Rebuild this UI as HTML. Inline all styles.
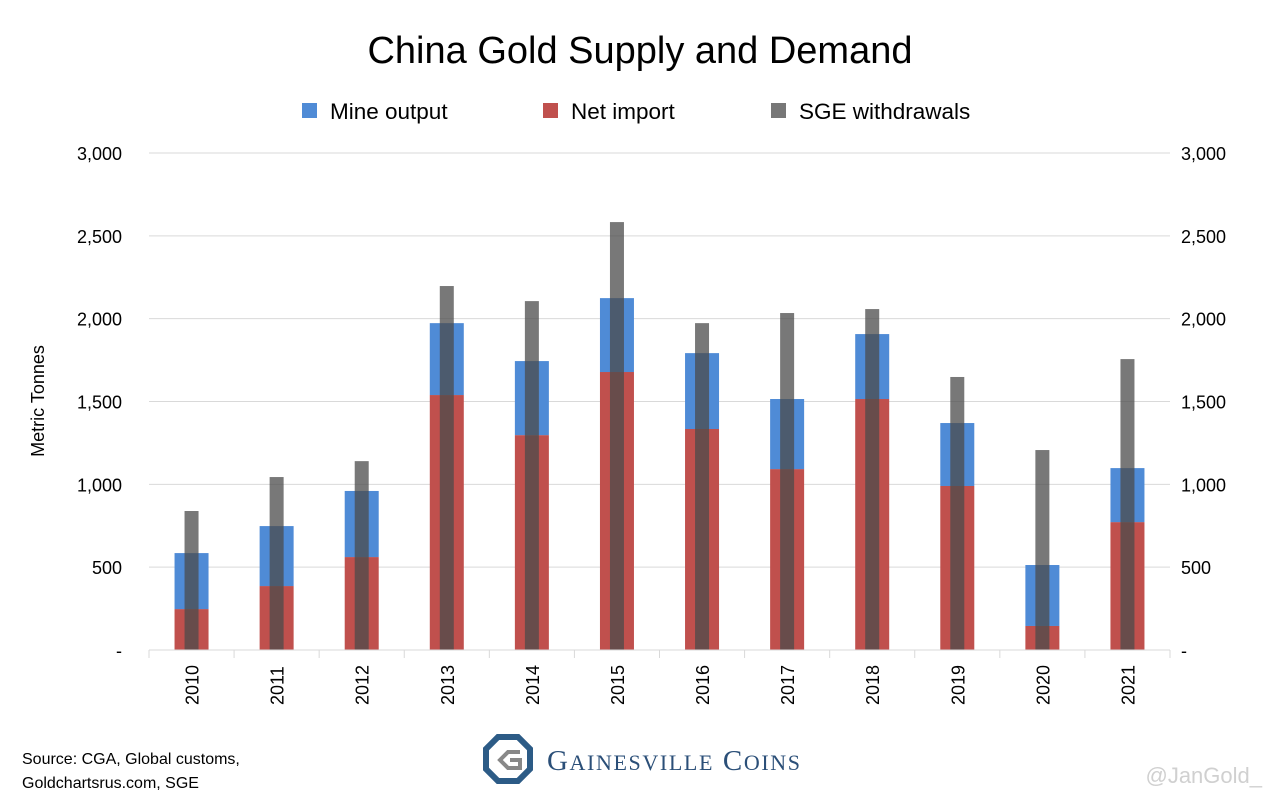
<!DOCTYPE html>
<html><head><meta charset="utf-8"><style>
body{margin:0;background:#fff;font-family:"Liberation Sans",sans-serif}
</style></head><body>
<svg id="chart" width="1280" height="806" xmlns="http://www.w3.org/2000/svg">
<text x="640" y="63" text-anchor="middle" font-size="38" fill="#000">China Gold Supply and Demand</text>
<g font-size="22.5" fill="#000">
<g><rect x="302" y="103" width="15" height="15" fill="#4f8bd6"/><text x="330" y="119">Mine output</text></g>
<g><rect x="543" y="103" width="15" height="15" fill="#c0504d"/><text x="571" y="119">Net import</text></g>
<g><rect x="771" y="103" width="15" height="15" fill="#777"/><text x="799" y="119">SGE withdrawals</text></g>
</g>
<text transform="translate(44,401) rotate(-90)" text-anchor="middle" font-size="18">Metric Tonnes</text>
<g id="grid"></g><g id="bars"></g><g id="axes"></g>
<text x="22" y="764" font-size="16">Source: CGA, Global customs,</text>
<text x="22" y="788" font-size="16">Goldchartsrus.com, SGE</text>
<g>
<polygon points="498,737 518,737 530,749 530,769 518,781 498,781 486,769 486,749" fill="none" stroke="#2c5b86" stroke-width="6"/>
<polyline points="520,752 508,752 500,760 508,768 520,768 520,760 510,760" fill="none" stroke="#888" stroke-width="4"/>
<text x="547" y="770" font-family="Liberation Serif,serif" font-size="29" fill="#2b4f78" textLength="253">G<tspan font-size="22">AINESVILLE</tspan> C<tspan font-size="22">OINS</tspan></text>
</g>
<text x="1262" y="783" text-anchor="end" font-size="22" fill="#d0d0d0">@JanGold_</text>
</svg>
<script>
const years=["2010","2011","2012","2013","2014","2015","2016","2017","2018","2019","2020","2021"];
const netImport=[247,386,561,1539,1297,1678,1334,1092,1515,990,145,772];
const mineOutput=[338,362,399,434,447,446,458,423,392,380,368,326];
const sgeWithdrawals=[839,1044,1140,2197,2106,2583,1973,2034,2058,1648,1207,1756];
const yTicks=[0,500,1000,1500,2000,2500,3000];
const yTickLabels=["-","500","1,000","1,500","2,000","2,500","3,000"];
const NS="http://www.w3.org/2000/svg";
const L=149,R=1170,T=153,B=650,maxV=3000;
const step=(R-L)/years.length;
const y=v=>B-(v/maxV)*(B-T);
const xc=i=>L+step*(i+0.5);
function mk(tag,attrs,parent){const e=document.createElementNS(NS,tag);for(const k in attrs)e.setAttribute(k,attrs[k]);document.getElementById(parent).appendChild(e);return e;}
yTicks.forEach((t,i)=>{
 if(t>0){const g=mk('line',{x1:L,x2:R,y1:y(t),y2:y(t),stroke:'#d9d9d9','stroke-width':1},'grid');
 
 }
 const a=mk('text',{x:122,y:y(t)+7,'text-anchor':'end','font-size':18},'axes');a.textContent=yTickLabels[i];
 
 
 const b=mk('text',{x:1181,y:y(t)+7,'text-anchor':'start','font-size':18},'axes');b.textContent=yTickLabels[i];
 
 
});
const ax=mk('line',{x1:L,x2:R,y1:B,y2:B,stroke:'#d9d9d9','stroke-width':1},'axes');


for(let i=0;i<=years.length;i++){const tk=mk('line',{x1:L+step*i,x2:L+step*i,y1:B,y2:B+8,stroke:'#d9d9d9'},'axes');
 
 }
years.forEach((yr,i)=>{
 const c=xc(i);
 const r=mk('rect',{x:c-17,width:34,y:y(netImport[i]),height:B-y(netImport[i]),fill:'#c0504d'},'bars');
 
 
 const tot=netImport[i]+mineOutput[i];
 const bl=mk('rect',{x:c-17,width:34,y:y(tot),height:y(netImport[i])-y(tot),fill:'#4f8bd6'},'bars');
 
 
 const g=mk('rect',{x:c-7,width:14,y:y(sgeWithdrawals[i]),height:B-y(sgeWithdrawals[i]),fill:'rgba(75,75,75,0.75)'},'bars');
 
 
 const t=mk('text',{transform:`translate(${c+7},705) rotate(-90)`,'font-size':18},'axes');t.textContent=yr;
 
 
});
</script>
</body></html>
